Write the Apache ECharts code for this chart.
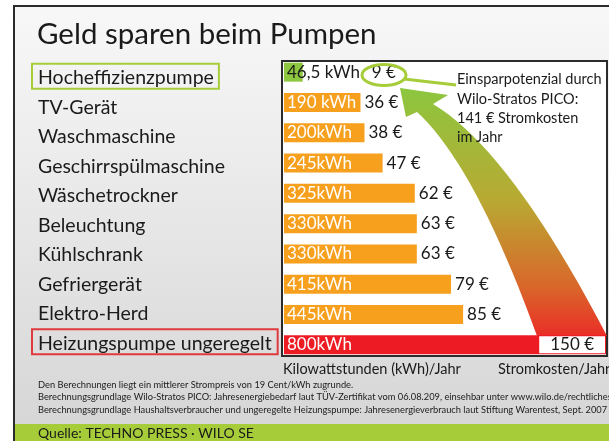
<!DOCTYPE html>
<html>
<head>
<meta charset="utf-8">
<script src="https://cdn.jsdelivr.net/npm/echarts@6/dist/echarts.min.js"></script>
<style>
  html, body { margin: 0; padding: 0; background: #fff; }
  #chart { width: 609px; height: 441px; }
</style>
</head>
<body>
<div id="chart"></div>
<script>
// Verbrauch pro Gerät (kWh/Jahr) und Stromkosten (€/Jahr)
var categories = ['Hocheffizienzpumpe', 'TV-Gerät', 'Waschmaschine', 'Geschirrspülmaschine', 'Wäschetrockner',
  'Beleuchtung', 'Kühlschrank', 'Gefriergerät', 'Elektro-Herd', 'Heizungspumpe ungeregelt']
var kwh = [46.5, 190, 200, 245, 325, 330, 330, 415, 445, 800]
var kwhLabels = ['46,5 kWh', '190 kWh', '200kWh', '245kWh', '325kWh', '330kWh', '330kWh', '415kWh', '445kWh', '800kWh']
var euro = [9, 36, 38, 47, 62, 63, 63, 79, 85, 150]
var footnotes = [
  'Den Berechnungen liegt ein mittlerer Strompreis von 19 Cent/kWh zugrunde.',
  'Berechnungsgrundlage Wilo-Stratos PICO: Jahresenergiebedarf laut TÜV-Zertifikat vom 06.08.209, einsehbar unter www.wilo.de/rechtliches',
  'Berechnungsgrundlage Haushaltsverbraucher und ungeregelte Heizungspumpe: Jahresenergieverbrauch laut Stiftung Warentest, Sept. 2007'
]

var FONT = 'Lato'
var GREEN = '#a6cd39'

function barColor(i) {
  if (i === 0) return '#8dc63f'
  if (i === categories.length - 1) return '#ed1c24'
  return '#f7a01e'
}

// Bogenpfeil (quadratische Kurven abgetastet)
function quad(p0, c, p2, t) {
  var u = 1 - t
  return [u * u * p0[0] + 2 * u * t * c[0] + t * t * p2[0], u * u * p0[1] + 2 * u * t * c[1] + t * t * p2[1]]
}
function arrowPoints() {
  var pts = []
  var i
  // rechte Kante: vom Kopf nach unten
  for (i = 0; i <= 20; i++) pts.push(quad([433, 104], [510, 150], [607, 336], i / 20))
  // linke Kante: von unten zum Kopf
  for (i = 0; i <= 20; i++) pts.push(quad([537, 336], [475, 165], [417, 112], i / 20))
  pts.push([406, 117])
  pts.push([400, 88])
  pts.push([448, 95])
  return pts
}

var chart = echarts.init(document.getElementById('chart'))
chart.setOption({
  animation: false,
  textStyle: { fontFamily: FONT },
  title: {
    text: 'Geld sparen beim Pumpen',
    left: 32,
    top: 14,
    textStyle: { fontFamily: FONT, fontSize: 29.5, fontWeight: 'normal', color: '#1a1a1a' }
  },
  graphic: [
    {
      type: 'rect', z: -20, silent: true,
      shape: { x: 14, y: 6, width: 620, height: 450 },
      style: {
        fill: new echarts.graphic.LinearGradient(0, 0, 0, 1, [
          { offset: 0, color: '#f8f8f8' }, { offset: 1, color: '#d4d4d4' }
        ]),
        stroke: '#2b2b2b', lineWidth: 2
      }
    },
    {
      type: 'rect', z: -19, silent: true,
      shape: { x: 15, y: 424, width: 600, height: 20 },
      style: { fill: GREEN }
    },
    {
      type: 'rect', z: -18, silent: true,
      shape: { x: 282, y: 61, width: 325, height: 295 },
      style: { fill: '#fff', stroke: '#2b2b2b', lineWidth: 2 }
    },
    {
      type: 'polygon', z: 1, silent: true,
      shape: { points: arrowPoints() },
      style: {
        fill: new echarts.graphic.LinearGradient(0, 0, 0, 1, [
          { offset: 0, color: '#8cc63f' },
          { offset: 0.45, color: '#b8aa33' },
          { offset: 0.8, color: '#d9672a' },
          { offset: 1, color: '#ea2e27' }
        ])
      }
    },
    {
      type: 'ellipse', z: 10, silent: true,
      shape: { cx: 384, cy: 75, rx: 22, ry: 10.5 },
      style: { fill: 'none', stroke: GREEN, lineWidth: 3 }
    },
    {
      type: 'line', z: 10, silent: true,
      shape: { x1: 404, y1: 79, x2: 456, y2: 85 },
      style: { stroke: GREEN, lineWidth: 3 }
    },
    {
      type: 'text', z: 10, silent: true, x: 457, y: 70,
      style: {
        text: 'Einsparpotenzial durch\nWilo-Stratos PICO:\n141 € Stromkosten\nim Jahr',
        font: '14.5px ' + FONT, lineHeight: 19.3, fill: '#1a1a1a'
      }
    },
    {
      type: 'text', silent: true, x: 283, y: 362,
      style: { text: 'Kilowattstunden (kWh)/Jahr', font: '14.5px ' + FONT, fill: '#1a1a1a' }
    },
    {
      type: 'text', silent: true, x: 498, y: 362,
      style: { text: 'Stromkosten/Jahr', font: '14.5px ' + FONT, fill: '#1a1a1a' }
    },
    {
      type: 'text', silent: true, x: 38, y: 379,
      style: { text: footnotes.join('\n'), font: '9.3px ' + FONT, lineHeight: 12.2, fill: '#1a1a1a' }
    },
    {
      type: 'text', silent: true, x: 38, y: 426,
      style: { text: 'Quelle: TECHNO PRESS · WILO SE', font: '14px ' + FONT, fill: '#1a1a1a' }
    }
  ],
  grid: [
    { left: 284, top: 57, width: 322, height: 303 },
    { left: 284, top: 61.5, width: 322, height: 295 }
  ],
  xAxis: [
    { type: 'value', min: 0, max: 800, show: false, gridIndex: 0 },
    { type: 'value', min: 0, max: 800, show: false, gridIndex: 1 }
  ],
  yAxis: [
    {
      type: 'category',
      gridIndex: 0,
      inverse: true,
      data: categories,
      axisLine: { show: false },
      axisTick: { show: false },
      axisLabel: { show: false },
      splitLine: { show: false }
    },
    {
      type: 'category',
      gridIndex: 1,
      inverse: true,
      data: categories,
      axisLine: { show: false },
      axisTick: { show: false },
      splitLine: { show: false },
      axisLabel: {
        align: 'left',
        margin: 252,
        formatter: function (v, i) {
          if (i === 0) return '{g|' + v + '}'
          if (i === categories.length - 1) return '{r|' + v + '}'
          return '{n|' + v + '}'
        },
        rich: {
          n: { fontFamily: FONT, fontSize: 19.5, lineHeight: 21, color: '#1a1a1a', padding: [4, 6, 1, 6] },
          g: { fontFamily: FONT, fontSize: 19.5, lineHeight: 21, color: '#1a1a1a', padding: [4, 5, 1, 6], borderColor: GREEN, borderWidth: 2 },
          r: { fontFamily: FONT, fontSize: 19.5, lineHeight: 21, color: '#1a1a1a', padding: [4, 6, 1, 6], borderColor: '#e03a3e', borderWidth: 2 }
        }
      }
    }
  ],
  series: [
    {
      type: 'bar',
      barWidth: 19,
      data: kwh.map(function (v, i) {
        var item = { value: v, itemStyle: { color: barColor(i) } }
        if (i === 0) item.label = { color: '#1a1a1a' }
        return item
      }),
      label: {
        show: true,
        position: 'insideLeft',
        distance: 3,
        fontFamily: FONT,
        fontSize: 17,
        color: '#fff',
        formatter: function (p) { return kwhLabels[p.dataIndex] }
      },
      labelLayout: { hideOverlap: false }
    },
    {
      type: 'scatter',
      symbolSize: 0,
      z: 5,
      itemStyle: { opacity: 1 },
      data: kwh.map(function (v, i) {
        var item = { value: [v, i] }
        if (i === 0) item.label = { offset: [65, 0] }
        if (i === kwh.length - 1) {
          item.label = {
            position: 'left', distance: 1, backgroundColor: '#fff',
            height: 17, lineHeight: 17, padding: [0, 11, 0, 11]
          }
        }
        return item
      }),
      label: {
        show: true,
        position: 'right',
        distance: 4,
        fontFamily: FONT,
        fontSize: 17,
        color: '#1a1a1a',
        formatter: function (p) { return euro[p.dataIndex] + ' €' }
      }
    }
  ]
})
</script>
</body>
</html>
